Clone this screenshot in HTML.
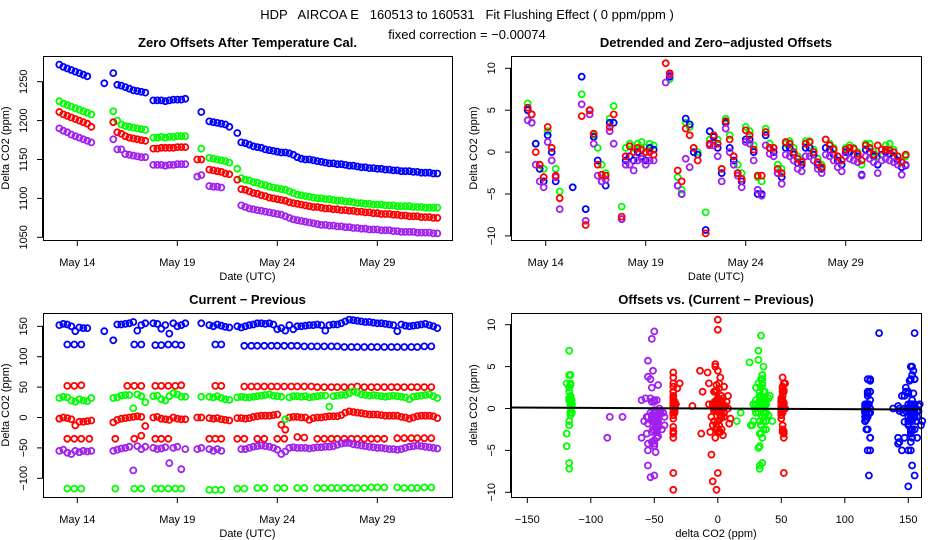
<!DOCTYPE html>
<html><head><meta charset="utf-8"><style>
html,body{margin:0;padding:0;background:#fff;}
svg{display:block;font-family:"Liberation Sans",Arial,sans-serif;}
</style></head><body>
<svg id="c" width="936" height="540" viewBox="0 0 936 540" xmlns="http://www.w3.org/2000/svg">
<rect width="936" height="540" fill="#fff"/>
<text x="467" y="19" text-anchor="middle" font-size="13" style="white-space:pre" xml:space="preserve">HDP   AIRCOA E   160513 to 160531   Fit Flushing Effect ( 0 ppm/ppm )</text>
<text x="467" y="39" text-anchor="middle" font-size="13">fixed correction = −0.00074</text>
</svg>
<script>
// ---- data ----
const T = [13.1,13.3,13.5,13.7,13.9,14.1,14.3,14.5,14.7, 15.35,15.8,
 16.0,16.2,16.4,16.6,16.8,17.0,17.2,17.4,
 17.8,18.0,18.2,18.4,18.6,18.8,19.0,19.2,19.4, 20.0,20.2,
 20.6,20.8,21.0,21.2,21.4,21.6, 22.0,
 22.2,22.4,22.6,22.8,23.0,23.2,23.4,23.6,23.8,24.0,
 24.2,24.4,24.6,24.8,25.0,25.2,25.4,25.6,25.8,26.0,
 26.2,26.4,26.6,26.8,27.0,27.2,27.4,27.6,27.8,28.0,
 28.2,28.4,28.6,28.8,29.0,29.2,29.4,29.6,29.8,30.0,
 30.2,30.4,30.6,30.8,31.0,31.2,31.4,31.6,31.8,32.0];

// Panel 1: zero offsets (ppm)
const zeroBlue = [1272,1269,1267,1265,1263,1261,1259,1257,null, 1248,1261,
 1246,1245,1243,1241,1239,1238,1237,1236,
 1226,1226,1226,1225,1226,1227,1227,1227,1228, null,1211,
 1199,1198,1197,1196,1195,1192, 1184,
 1172,1171,1169,1167,1166,1165,1163,1162,1161,1160,
 1159,1159,1158,1156,1153,1151,1150,1150,1149,1148,
 1147,1146,1145,1145,1144,1144,1143,1142,1142,1141,
 1140,1140,1139,1139,1138,1138,1137,1137,1136,1136,
 1135,1135,1135,1134,1134,1133,1133,1133,1132,1132];
const zeroGreen = [1225,1222,1220,1218,1216,1214,1212,1210,1208, null,1212,
 1200,1195,1193,1192,1191,1190,1189,1188,
 1178,1178,1179,1178,1179,1179,1180,1180,1180, null,1164,
 1152,1151,1150,1149,1148,1146, 1138,
 1126,1124,1123,1121,1120,1118,1117,1115,1114,1113,
 1112,1111,1109,1107,1105,1104,1103,1102,1101,1100,
 1100,1099,1099,1098,1097,1097,1096,1096,1095,1094,
 1094,1093,1093,1092,1092,1092,1091,1091,1091,1090,
 1090,1090,1090,1089,1089,1089,1088,1088,1088,1088];
const zeroRed = [1211,1208,1206,1204,1202,1200,1198,1196,1192, null,1198,
 1185,1183,1180,1178,1177,1176,1175,1174,
 1164,1164,1165,1165,1165,1165,1166,1166,1166, 1150,1150,
 1137,1136,1135,1134,1132,1131, 1124,
 1112,1111,1109,1107,1106,1104,1103,1101,1100,1099,
 1098,1097,1095,1094,1093,1092,1091,1090,1089,1089,
 1088,1087,1087,1086,1086,1085,1085,1084,1084,1083,
 1083,1082,1082,1081,1081,1080,1080,1080,1079,1079,
 1078,1078,1077,1077,1077,1076,1076,1076,1075,1075];
const zeroPurple = [1190,1187,1185,1182,1180,1178,1176,1174,1172, null,1176,
 1163,1163,1157,1156,1155,1154,1153,1153,
 1143,1143,1143,1142,1143,1143,1144,1144,1144, 1128,1130,
 1116,1115,1115,1114,null,null, null,
 1091,1089,1087,1086,1085,1084,1083,1082,1081,1080,
 1079,1077,1075,1073,1072,1071,1070,1069,1068,1067,
 1066,1066,1065,1065,1064,1064,1063,1063,1062,1062,
 1061,1061,1060,1060,1060,1059,1059,1059,1058,1058,
 1057,1057,1057,1057,1056,1056,1056,1056,1055,1055];

// Panel 2: detrended offsets (ppm)
const detBlue = [5.0,4.5,1,-2,-3.5,2,0,-3.5,null, -4.2,9,
 -6.8,5,1.8,-1,-3.5,-4,3.5,3.5,
 -8,-1,-0.5,-1,0,-0.5,-1,0.5,0.3, null,9,
 -4,-5,4,3.3,0,-0.3, -9.3,
 2.5,1.8,0.5,-2.5,3.5,0.5,-1,-2.5,-3.5,1.5,
 1.5,0,-5,-5,2,0.5,0,-2.5,-3,0.5,
 0.5,-0.3,-1.3,-1.5,0.5,0.5,-0.3,-1.5,-2,0.5,
 0.3,-0.3,-1,-1.5,0,0,-0.3,-0.5,-2.7,0.3,
 0,-0.5,-1.5,-0.3,0,-0.2,-0.5,-1,-1.8,-1.6];
const detGreen = [5.8,3.5,1,-1.5,-2,2.5,0.5,-2,-4.7, null,6.9,
 -6.8,5,2,0.5,-1.5,-2.5,4,5.5,
 -6.5,0.5,1,0.5,1,1.2,0.5,1,0.8, null,8.7,
 -3,-4.5,3.5,3,0.5,0, -7.2,
 1.5,2,1.5,-2,4,2,-0.5,-1.5,-2.5,3,
 2.5,0.8,-3,-3.5,2.8,1,0.5,-1.5,-2,1,
 1.3,0.5,-0.5,-1,1.3,1.3,0.3,-0.8,-1.5,1.5,
 1,0.5,-0.5,-1,0.5,0.8,0.5,0,-1.5,1,
 1,0,-0.5,0.3,0.8,1,0.3,-0.5,-1,-0.5];
const detRed = [5.3,4.5,0,-1.5,-3,3,0.5,-2.8,-5.5, null,4.3,
 -8.7,5,2.2,-1.5,-2.7,-2.8,3,4.5,
 -7.7,-0.5,0.7,0,0.5,0.3,0,0,-0.3, 10.6,9.4,
 -2.2,-3.5,2.8,2,0.5,-1, -9.7,
 1,2,1,-2,3.7,1.5,-0.5,-2.5,-3.2,2.6,
 2,0.3,-2.8,-2.8,2.4,0.5,0.5,-2,-2.5,1.2,
 1,0,-0.8,-1.2,1,1.2,0,-1.2,-1.8,1.5,
 0.8,0.3,-0.5,-1,0.3,0.5,0.4,-0.2,-1,0.8,
 0.5,-0.3,0.8,0.3,0.3,0.2,0,-0.5,-1.2,-0.3];
const detPurple = [3.8,3.5,-1.5,-3.5,-4.2,1.2,-1,-3,-6.8, null,5.7,
 -8.2,4.5,1,-2.8,-3.5,-3.3,2.5,1.0,
 -8,-1.5,-1.5,-2.2,-1,-0.8,-1.5,-1,-1, 8.3,9.2,
 -4,-5,-0.8,-1.8,null,null, null,
 0.8,0.8,-0.5,-3.5,2.8,0,-1.5,-2.8,-4.2,1.2,
 1,-1,-4.5,-5.2,0.8,-0.2,-0.5,-2.5,-3.8,-0.3,
 -0.5,-1,-2,-2.3,-0.5,-0.5,-1,-2,-2.5,-0.3,
 -0.5,-1,-1.8,-2.3,-0.5,-0.8,-1,-1.2,-2.8,-0.5,
 -0.8,-1.2,-2.5,-1,-0.8,-1,-1.2,-1.5,-2.7,-1.5];

// Panel 3: current - previous (main level, ppm)
const diffBlue = [152,154,153,150,142,148,147,147,null, 142,127,
 153,153,154,155,157,143,152,155,
 155,154,146,152,138,155,150,152,155, null,155,
 152,150,153,151,149,148, 150,
 148,150,152,153,155,155,154,155,153,145,
 147,143,152,145,150,150,151,152,152,153,
 152,143,152,153,153,155,158,161,160,159,
 158,157,157,156,155,155,154,153,152,142,
 153,151,150,151,152,153,154,152,150,147];
const diffGreen = [32,34,33,28,26,30,28,27,32, null,32,
 33,36,37,37,15,38,35,25,
 35,36,30,28,35,40,38,34,34, null,34,
 34,33,35,32,30,29, 33,
 34,33,33,34,35,36,37,38,36,35,
 34,-3,33,35,35,34,35,33,34,35,
 36,36,18,35,36,37,37,40,43,41,
 38,37,36,37,36,35,34,35,36,35,
 34,33,30,34,35,36,37,38,35,32];
const diffRed = [-2,0,-1,-3,-13,-7,-7,-6,-5, null,-8,
 -4,-2,-1,0,1,2,1,-14,
 0,1,-2,-3,-4,0,-2,-3,-3, 0,0,
 -1,-2,-1,-3,-4,-5, -1,
 -1,-2,-1,1,2,3,3,3,4,5,
 -12,-20,0,1,1,0,0,-4,-1,0,
 0,1,2,2,2,4,8,10,9,8,
 7,6,5,5,5,4,3,3,3,3,
 1,0,-2,0,2,3,3,3,2,-1];
const diffPurple = [-55,-53,-58,-60,-55,-57,-55,-56,-55, null,-55,
 -53,-51,-50,-48,-87,-47,-52,-48,
 -50,-52,-51,-49,-75,-50,-48,-85,-52, -52,-50,
 -52,-55,-52,-55,null,null, null,
 -52,-52,-50,-48,-47,-46,-47,-48,-50,-53,
 -60,-56,-50,-49,-50,-50,-50,-51,-50,-49,
 -49,-48,-48,-47,-45,-43,-42,-42,-44,-45,
 -46,-47,-48,-49,-50,-50,-51,-52,-52,-53,
 -52,-50,-48,-47,-46,-47,-48,-49,-50,-51];

// Panel 3: secondary (sparse) levels
const TA = [13.5,13.85,14.2,14.6,15.9,16.5,16.85,17.2,17.9,18.2,18.55,18.9,19.2,20.6,20.9,21.2,22.0,
 22.35,22.7,23.0,23.35,23.7,24.0,24.35,24.7,25.0,25.35,25.7,26.0,26.35,26.7,27.0,27.35,27.7,
 28.0,28.35,28.7,29.0,29.35,29.7,30.0,30.35,30.7,31.0,31.35,31.7];
const altBlue = [120,120,120,null,null,null,120,120,119,119,120,120,119,null,120,120,null,
 118,118,118,118,118,118,118,118,118,117,117,117,117,117,117,116,116,
 116,116,116,116,116,116,116,116,116,116,117,117];
const altRedHi = [52,52,53,null,null,52,52,52,52,52,52,52,53,null,52,52,null,
 51,51,51,51,51,51,51,51,51,51,51,50,50,50,50,50,50,
 51,50,50,50,50,50,50,50,50,50,50,50];
const altRedLo = [-35,-35,-35,-35,-35,null,-35,-30,-35,-35,-35,null,null,-35,-35,-35,-35,
 -35,null,-35,-35,null,-35,-35,null,-32,-33,null,-35,-35,-35,-35,-35,-35,
 -35,-35,-35,-35,-35,null,-34,-34,-34,-34,-34,-34];
const altGreenLo = [-117,-117,-117,null,-117,null,-117,-117,-117,-117,-117,-117,-117,-119,-119,-119,-117,
 -117,null,-116,-116,null,-116,-116,null,-116,-116,null,-116,-116,-116,-116,-116,-116,
 -116,-116,-115,-115,-115,null,-115,-116,-116,-116,-115,-115];

const yTicks1 = [1050,1100,1150,1200,1250];
const yTicks2 = [-10,-5,0,5,10];
const yTicks3 = [-100,-50,0,50,100,150];
const xTicks4 = [-150,-100,-50,0,50,100,150];
const dateTicks = [14,19,24,29];
const dateLabels = ["May 14","May 19","May 24","May 29"];
const fitSlope = -0.00074;

// ---- drawing ----
const NS = "http://www.w3.org/2000/svg";
const svg = document.getElementById("c");
function mk(tag, attrs, parent){
  const e = document.createElementNS(NS, tag);
  for (const k in attrs) e.setAttribute(k, attrs[k]);
  (parent||svg).appendChild(e);
  return e;
}
const COL = {blue:"#0000ff", green:"#00ff00", red:"#ff0000", purple:"#a020f0"};

const P1 = {l:43,r:452,t:56,b:240, x:d=>77.3+(d-14)*20, y:v=>81.7+(1250-v)*38.9/50};
const P2 = {l:511,r:921,t:56,b:240, x:d=>545.7+(d-14)*20, y:v=>68.3+(10-v)*8.38};
const P3 = {l:43,r:452,t:313,b:497, x:d=>77.3+(d-14)*20, y:v=>326.3+(150-v)*0.608};
const P4 = {l:511,r:921,t:313,b:497, x:v=>527.3+(v+150)*1.27, y:v=>324.7+(10-v)*8.38};

function panel(P, name, title, xtitle, ytitle){
  const g = mk("g", {});
  
  
  const t = mk("text", {x:(P.l+P.r)/2, y:P.t-9, "text-anchor":"middle", "font-size":13, "font-weight":"bold"}, g);
  t.textContent = title;
  
  
  const xt = mk("text", {x:(P.l+P.r)/2, y:P.b+40, "text-anchor":"middle", "font-size":11}, g);
  xt.textContent = xtitle;
  
  
  const cy = (P.t+P.b)/2, cx = P.l-34;
  const yt = mk("text", {x:cx, y:cy, "text-anchor":"middle", "font-size":11, transform:`rotate(-90 ${cx} ${cy})`}, g);
  yt.textContent = ytitle;
  
  
  return g;
}
function yAxis(P, g, ticks){
  const ax = mk("g", {}, g);
  
  
  mk("line", {x1:P.l-0.5, x2:P.l-0.5, y1:P.y(ticks[0]), y2:P.y(ticks[ticks.length-1]), stroke:"#000"}, ax);
  ticks.forEach(v=>{
    const y = P.y(v);
    mk("line", {x1:P.l-6, x2:P.l, y1:y, y2:y, stroke:"#000"}, ax);
    const cx = P.l-16;
    const tx = mk("text", {x:cx, y:y, "text-anchor":"middle", "font-size":11, transform:`rotate(-90 ${cx} ${y})`}, ax);
    tx.textContent = v < 0 ? "\u2212" + Math.abs(v) : String(v);
    
    
  });
}
function xAxis(P, g, ticks, labels){
  const ax = mk("g", {}, g);
  
  
  mk("line", {x1:P.x(ticks[0]), x2:P.x(ticks[ticks.length-1]), y1:P.b+0.5, y2:P.b+0.5, stroke:"#000"}, ax);
  ticks.forEach((v,i)=>{
    const x = P.x(v);
    mk("line", {x1:x, x2:x, y1:P.b, y2:P.b+6, stroke:"#000"}, ax);
    const tx = mk("text", {x:x, y:P.b+26, "text-anchor":"middle", "font-size":11}, ax);
    tx.textContent = labels[i];
    
    
  });
}
function box(P, g){
  const r = mk("rect", {x:P.l+0.5, y:P.t+0.5, width:P.r-P.l, height:P.b-P.t, fill:"none", stroke:"#000"}, g);
  
  
}
function points(P, g, xs, ys, color, name){
  const sg = mk("g", {fill:"none", stroke:color, "stroke-width":1.8}, g);
  
  
  for (let i=0;i<xs.length;i++){
    if (xs[i]==null || ys[i]==null) continue;
    const c = mk("circle", {cx:P.x(xs[i]).toFixed(1), cy:P.y(ys[i]).toFixed(1), r:3}, sg);
    
    
  }
}
function nearestDet(det, t){
  let best=null, bd=1e9;
  for (let i=0;i<T.length;i++){ if (det[i]==null) continue; const d=Math.abs(T[i]-t); if (d<bd){bd=d;best=det[i];} }
  return best;
}

// Panel 1
let g = panel(P1, "zero-offsets-panel", "Zero Offsets After Temperature Cal.", "Date (UTC)", "Delta CO2 (ppm)");
points(P1, g, T, zeroBlue, COL.blue, "series-blue");
points(P1, g, T, zeroGreen, COL.green, "series-green");
points(P1, g, T, zeroRed, COL.red, "series-red");
points(P1, g, T, zeroPurple, COL.purple, "series-purple");
box(P1, g); yAxis(P1, g, yTicks1); xAxis(P1, g, dateTicks, dateLabels);

// Panel 2
g = panel(P2, "detrended-offsets-panel", "Detrended and Zero\u2212adjusted Offsets", "Date (UTC)", "Delta CO2 (ppm)");
points(P2, g, T, detGreen, COL.green, "series-green");
points(P2, g, T, detBlue, COL.blue, "series-blue");
points(P2, g, T, detPurple, COL.purple, "series-purple");
points(P2, g, T, detRed, COL.red, "series-red");
box(P2, g); yAxis(P2, g, yTicks2); xAxis(P2, g, dateTicks, dateLabels);

// Panel 3
g = panel(P3, "current-minus-previous-panel", "Current \u2212 Previous", "Date (UTC)", "Delta CO2 (ppm)");
points(P3, g, T, diffBlue, COL.blue, "series-blue");
points(P3, g, TA, altBlue, COL.blue, "series-blue-secondary");
points(P3, g, TA, altRedHi, COL.red, "series-red-high");
points(P3, g, TA, altRedLo, COL.red, "series-red-low");
points(P3, g, T, diffRed, COL.red, "series-red");
points(P3, g, T, diffGreen, COL.green, "series-green");
points(P3, g, TA, altGreenLo, COL.green, "series-green-low");
points(P3, g, T, diffPurple, COL.purple, "series-purple");
box(P3, g); yAxis(P3, g, yTicks3); xAxis(P3, g, dateTicks, dateLabels);

// Panel 4
g = panel(P4, "offsets-vs-diff-panel", "Offsets vs. (Current \u2212 Previous)", "delta CO2 (ppm)", "delta CO2 (ppm)");
points(P4, g, diffGreen, detGreen, COL.green, "series-green");
points(P4, g, altGreenLo, TA.map(t=>nearestDet(detGreen,t)), COL.green, "series-green-low");
points(P4, g, diffPurple, detPurple, COL.purple, "series-purple");
points(P4, g, diffRed, detRed, COL.red, "series-red");
points(P4, g, altRedHi, TA.map(t=>nearestDet(detRed,t)), COL.red, "series-red-high");
points(P4, g, altRedLo, TA.map(t=>nearestDet(detRed,t)), COL.red, "series-red-low");
points(P4, g, diffBlue, detBlue, COL.blue, "series-blue");
points(P4, g, altBlue, TA.map(t=>nearestDet(detBlue,t)), COL.blue, "series-blue-secondary");
const xL = -163, xR = 160;
const fit = mk("line", {x1:P4.l, x2:P4.r, y1:P4.y(fitSlope*xL), y2:P4.y(fitSlope*xR), stroke:"#000", "stroke-width":2}, g);


box(P4, g); yAxis(P4, g, yTicks2);
xAxis(P4, g, xTicks4, xTicks4.map(v=> v<0 ? "\u2212"+Math.abs(v) : String(v)));
</script>
</body></html>
